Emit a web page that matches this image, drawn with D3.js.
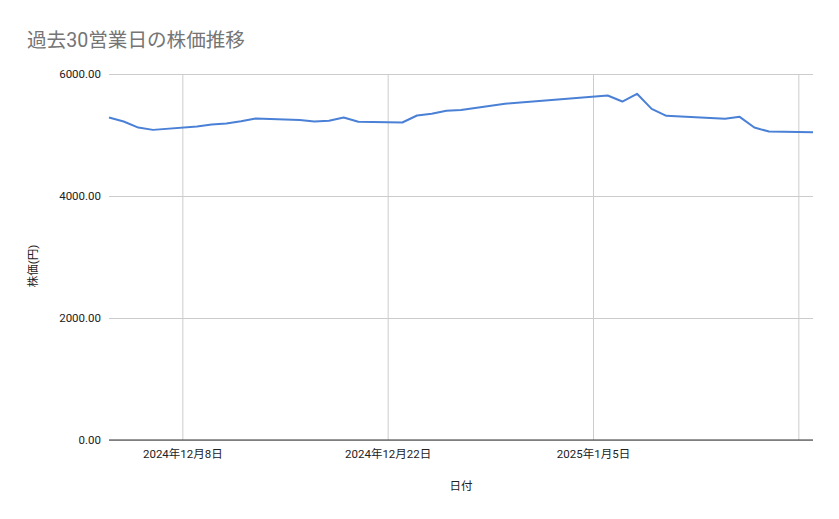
<!DOCTYPE html>
<html>
<head>
<meta charset="utf-8">
<script src="https://cdn.jsdelivr.net/npm/d3@7"></script>
<style>
  body { margin: 0; background: #fff; }
  text { font-family: Roboto, "Noto Sans CJK JP", sans-serif; }
</style>
</head>
<body>
<div id="chart"></div>
<script>
// business days and closing prices (yen)
const dates = [
  "2024-12-03","2024-12-04","2024-12-05","2024-12-06",
  "2024-12-09","2024-12-10","2024-12-11","2024-12-12","2024-12-13",
  "2024-12-16","2024-12-17","2024-12-18","2024-12-19","2024-12-20",
  "2024-12-23","2024-12-24","2024-12-25","2024-12-26","2024-12-27",
  "2024-12-30",
  "2025-01-06","2025-01-07","2025-01-08","2025-01-09","2025-01-10",
  "2025-01-14","2025-01-15","2025-01-16","2025-01-17",
  "2025-01-20"
];
const prices = [
  5286, 5221, 5122, 5084,
  5139, 5172, 5188, 5225, 5270,
  5244, 5221, 5232, 5286, 5216,
  5205, 5320, 5347, 5397, 5408,
  5512,
  5648, 5549, 5676, 5429, 5314,
  5265, 5298, 5122, 5057,
  5047
];
const yTicks = [0, 2000, 4000, 6000];
const gridDates = ["2024-12-08", "2024-12-22", "2025-01-05", "2025-01-19"];
const tickLabels = ["2024年12月8日", "2024年12月22日", "2025年1月5日", ""];

const width = 839, height = 519;
const margin = {top: 74, right: 26, bottom: 79, left: 109};

const parse = d3.timeParse("%Y-%m-%d");
const data = dates.map((d, i) => ({date: parse(d), value: prices[i]}));

const svg = d3.select("#chart").append("svg")
    .attr("width", width)
    .attr("height", height);

const x = d3.scaleTime()
    .domain(d3.extent(data, d => d.date))
    .range([margin.left, width - margin.right]);

const y = d3.scaleLinear()
    .domain([0, 6000])
    .range([height - margin.bottom, margin.top]);

// title
svg.append("text")
    .attr("x", 27)
    .attr("y", 47)
    .attr("font-size", 19.6)
    .attr("fill", "#757575")
    .text("過去30営業日の株価推移");

// horizontal grid + y labels
const yAxis = svg.append("g")
    .attr("transform", `translate(${margin.left},0)`)
    .call(d3.axisLeft(y)
        .tickValues(yTicks)
        .tickFormat(d3.format(".2f"))
        .tickSize(-(width - margin.left - margin.right))
        .tickPadding(8));
yAxis.select(".domain").remove();
yAxis.selectAll("line").attr("stroke", "#cccccc");
yAxis.selectAll("text")
    .attr("font-size", 11.5)
    .attr("fill", "#222");

// vertical grid + x labels
const xAxis = svg.append("g")
    .attr("transform", `translate(0,${height - margin.bottom})`)
    .call(d3.axisBottom(x)
        .tickValues(gridDates.map(parse))
        .tickFormat((d, i) => tickLabels[i])
        .tickSize(-(height - margin.top - margin.bottom))
        .tickPadding(10));
xAxis.select(".domain").remove();
xAxis.selectAll("line").attr("stroke", "#cccccc");
xAxis.selectAll("text")
    .attr("font-size", 11.5)
    .attr("fill", "#222");

// baseline
svg.append("line")
    .attr("x1", margin.left)
    .attr("x2", width - margin.right)
    .attr("y1", y(0))
    .attr("y2", y(0))
    .attr("stroke", "#333")
    .attr("stroke-width", 1.2);

// price line
const line = d3.line()
    .x(d => x(d.date))
    .y(d => y(d.value));

svg.append("path")
    .datum(data)
    .attr("fill", "none")
    .attr("stroke", "#4a80d6")
    .attr("stroke-width", 2)
    .attr("stroke-linejoin", "round")
    .attr("d", line);

// axis titles
svg.append("text")
    .attr("x", 461)
    .attr("y", 490)
    .attr("text-anchor", "middle")
    .attr("font-size", 11.5)
    .attr("fill", "#222")
    .text("日付");

svg.append("text")
    .attr("transform", "translate(37,266) rotate(-90)")
    .attr("text-anchor", "middle")
    .attr("font-size", 11.5)
    .attr("fill", "#222")
    .text("株価(円)");
</script>
</body>
</html>
